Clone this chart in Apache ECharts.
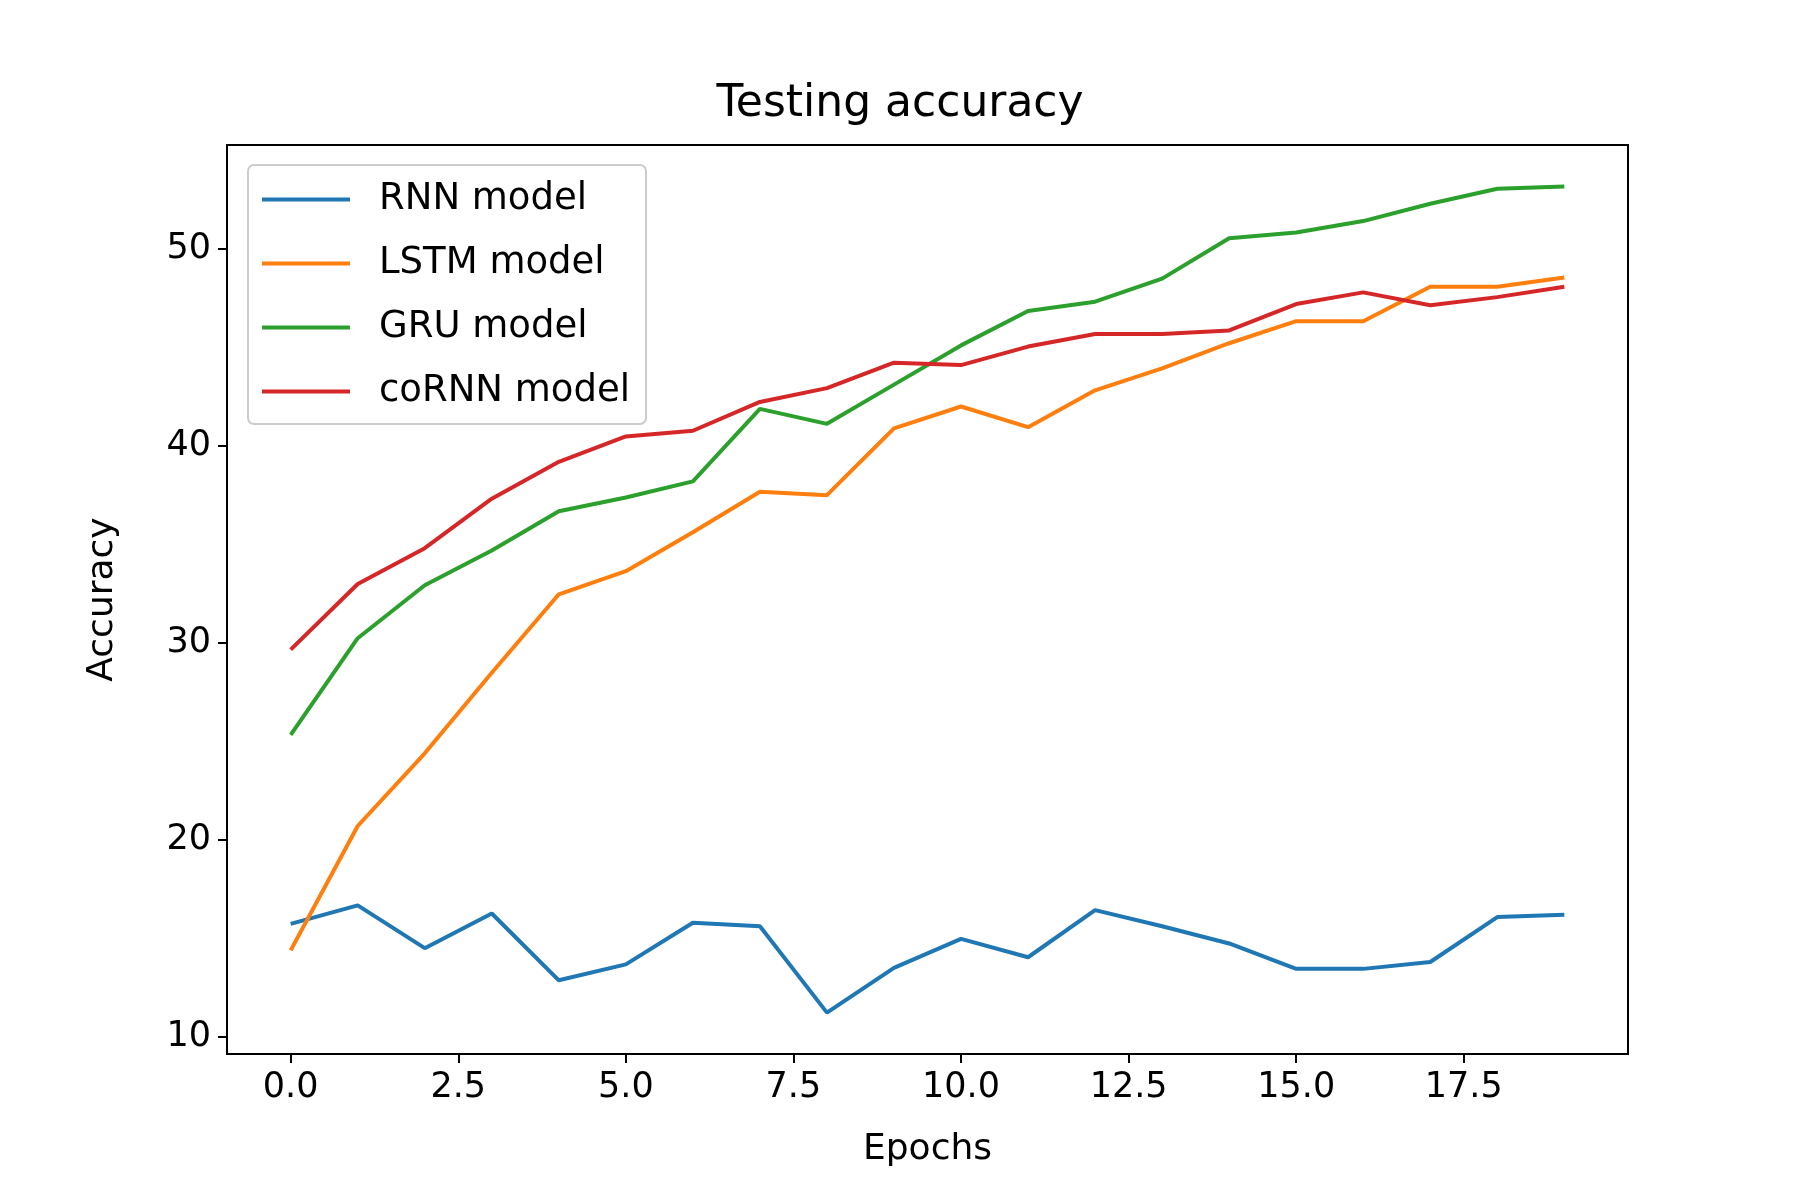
<!DOCTYPE html>
<html>
<head>
<meta charset="utf-8">
<script src="https://cdn.jsdelivr.net/npm/echarts@6/dist/echarts.min.js"></script>
<style>html,body{margin:0;padding:0;background:#fff}#chart{width:1800px;height:1200px}</style>
</head>
<body>
<div id="chart"></div>
<script>
var epochs = [];
for (var i = 0; i < 20; i++) epochs.push(i);
var rnnAcc = [15.73, 16.67, 14.5, 16.26, 12.87, 13.68, 15.79, 15.61, 11.23, 13.5, 14.97, 14.04, 16.43, 15.61, 14.74, 13.45, 13.45, 13.8, 16.08, 16.2];
var lstmAcc = [14.39, 20.7, 24.39, 28.48, 32.46, 33.63, 35.61, 37.66, 37.49, 40.88, 41.99, 40.94, 42.81, 43.92, 45.2, 46.32, 46.32, 48.07, 48.07, 48.54];
var gruAcc = [25.32, 30.23, 32.92, 34.68, 36.67, 37.37, 38.19, 41.87, 41.11, 43.1, 45.09, 46.84, 47.31, 48.48, 50.53, 50.82, 51.4, 52.28, 53.04, 53.16];
var cornnAcc = [29.65, 32.98, 34.8, 37.31, 39.18, 40.47, 40.76, 42.22, 42.92, 44.21, 44.09, 45.03, 45.67, 45.67, 45.85, 47.19, 47.78, 47.13, 47.54, 48.07];
var xTicks = [0, 2.5, 5, 7.5, 10, 12.5, 15, 17.5];
var yTicks = [10, 20, 30, 40, 50];

var font = 'DejaVu Sans';
function pairs(arr) {
    return arr.map(function (v, i) { return [epochs[i], v]; });
}
function makeSeries(name, data, color) {
    return {
        name: name, type: 'line', data: pairs(data), showSymbol: false,
        lineStyle: { color: color, width: 4 }, itemStyle: { color: color }
    };
}

var chart = echarts.init(document.getElementById('chart'));
chart.setOption({
    animation: false,
    backgroundColor: '#fff',
    title: {
        text: 'Testing accuracy', left: 'center', top: 78,
        textStyle: { fontFamily: font, fontSize: 44, fontWeight: 'normal', color: '#000' }
    },
    legend: {
        orient: 'vertical', left: 248, top: 165,
        padding: [16, 16, 14, 14], itemGap: 27,
        itemWidth: 88, itemHeight: 4,
        backgroundColor: '#fff', borderColor: '#ccc', borderWidth: 2, borderRadius: 6,
        icon: 'rect',
        textStyle: { fontFamily: font, fontSize: 37, color: '#000', padding: [0, 0, 0, 24] },
        data: ['RNN model', 'LSTM model', 'GRU model', 'coRNN model']
    },
    grid: {
        left: 227, right: 172, top: 145, bottom: 146,
        show: true, borderColor: '#000', borderWidth: 2, backgroundColor: 'transparent'
    },
    xAxis: {
        type: 'value', min: -0.95, max: 19.95,
        name: 'Epochs', nameLocation: 'middle', nameGap: 78,
        nameTextStyle: { fontFamily: font, fontSize: 36, color: '#000' },
        axisLine: { show: true, onZero: false, lineStyle: { color: '#000', width: 2 } },
        axisTick: { show: true, length: 9, lineStyle: { color: '#000', width: 2 }, customValues: xTicks },
        axisLabel: {
            fontFamily: font, fontSize: 35, color: '#000', margin: 16, customValues: xTicks,
            formatter: function (v) { return v.toFixed(1); }
        },
        splitLine: { show: false }
    },
    yAxis: {
        type: 'value', min: 9.13, max: 55.26,
        name: 'Accuracy', nameLocation: 'middle', nameGap: 106, nameRotate: 90,
        nameTextStyle: { fontFamily: font, fontSize: 36, color: '#000' },
        axisLine: { show: true, onZero: false, lineStyle: { color: '#000', width: 2 } },
        axisTick: { show: true, length: 9, lineStyle: { color: '#000', width: 2 }, customValues: yTicks },
        axisLabel: { fontFamily: font, fontSize: 35, color: '#000', margin: 16, customValues: yTicks },
        splitLine: { show: false }
    },
    series: [
        makeSeries('RNN model', rnnAcc, '#1f77b4'),
        makeSeries('LSTM model', lstmAcc, '#ff7f0e'),
        makeSeries('GRU model', gruAcc, '#2ca02c'),
        makeSeries('coRNN model', cornnAcc, '#d62728')
    ]
});
</script>
</body>
</html>
